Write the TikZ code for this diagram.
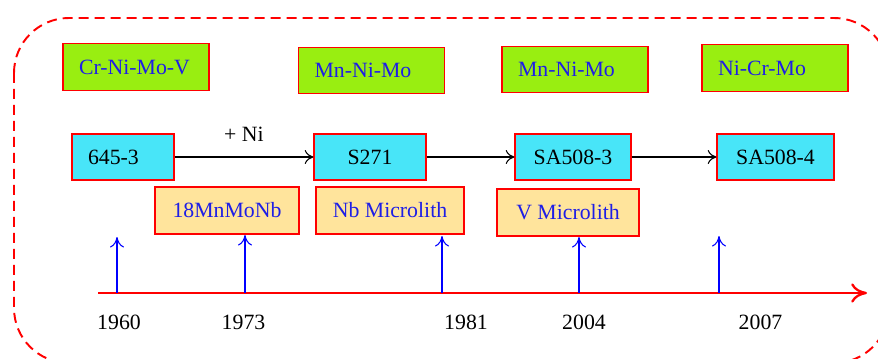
\documentclass[tikz,border=0pt]{standalone}
\usepackage{fontspec}
\setmainfont{Liberation Serif}
\usepackage{xcolor}
\usepackage{tikz}
\usetikzlibrary{arrows.meta, positioning}
\definecolor{alloygreen}{RGB}{153,238,17}
\definecolor{steelcyan}{RGB}{72,229,248}
\definecolor{microorange}{RGB}{255,228,156}
\definecolor{textblue}{RGB}{30,30,230}
\tikzset{
  alloy/.style={rectangle, draw=red, line width=0.6pt, fill=alloygreen, text=textblue,
                text width=2.28cm, align=left, inner xsep=0.32cm, minimum height=0.93cm,
                font=\rmfamily\fontsize{12.4}{14}\selectfont},
  grade/.style={rectangle, draw=red, line width=0.6pt, fill=steelcyan, text=black,
                align=center, inner sep=0pt, minimum height=0.92cm,
                font=\rmfamily\fontsize{12.4}{14}\selectfont},
  micro/.style={rectangle, draw=red, line width=0.6pt, fill=microorange, text=textblue,
                align=center, inner sep=0pt, minimum height=0.94cm,
                font=\rmfamily\fontsize{12.4}{14}\selectfont},
  year/.style={font=\rmfamily\fontsize{12.4}{14}\selectfont, inner sep=0pt},
  flow/.style={-{To[length=5pt,width=8pt]}, line width=0.6pt},
  yeartick/.style={-{To[length=6pt,width=8pt]}, blue, line width=0.6pt},
  timeaxis/.style={-{To[length=9pt,width=11pt]}, red, line width=1.3pt},
  frame/.style={red, line width=1.1pt, dash pattern=on 0.2cm off 0.12cm, rounded corners=1.1cm},
}
\begin{document}
\begin{tikzpicture}[x=0.02cm, y=-0.02cm]
  \useasboundingbox (0,0) rectangle (878,358);
  \clip (0,0) rectangle (878,358);
  \draw[frame] (14,18) rectangle (889,363);

  \node[alloy] (crnimov) at (136,67)    {Cr-Ni-Mo-V};
  \node[alloy] (mnnimoa) at (371.5,70.5) {Mn-Ni-Mo};
  \node[alloy] (mnnimob) at (575,69.5)  {Mn-Ni-Mo};
  \node[alloy] (nicrmo)  at (775,68)    {Ni-Cr-Mo};

  \node[grade, text width=1.4cm, align=left, inner xsep=0.32cm] (g645) at (123,157) {645-3};
  \node[grade, minimum width=2.24cm] (s271)  at (370,157)   {S271};
  \node[grade, minimum width=2.32cm] (sa5083) at (573,157)  {SA508-3};
  \node[grade, minimum width=2.34cm] (sa5084) at (775.5,157) {SA508-4};

  \node[micro, minimum width=2.88cm] (mnmonb) at (227,210.5) {18MnMoNb};
  \node[micro, minimum width=2.96cm] (nbmicro) at (390,210.5) {Nb Microlith};
  \node[micro, minimum width=2.84cm] (vmicro) at (568,212.5) {V Microlith};

  \draw[flow] (g645) -- node[above=5pt, font=\rmfamily\fontsize{12.4}{14}\selectfont]{+ Ni} (s271);
  \draw[flow] (s271) -- (sa5083);
  \draw[flow] (sa5083) -- (sa5084);

  \coordinate (tstart) at (98,293);
  \coordinate (tend)   at (867,293);
  \draw[timeaxis] (tstart) -- (tend);

  \coordinate (ta) at (117,293);  \coordinate (ha) at (117,237);
  \coordinate (tb) at (245,293);  \coordinate (hb) at (245,235);
  \coordinate (tc) at (442,293);  \coordinate (hc) at (442,236);
  \coordinate (td) at (579,293);  \coordinate (hd) at (579,237);
  \coordinate (te) at (719,293);  \coordinate (he) at (719,236);
  \foreach \t/\h in {ta/ha, tb/hb, tc/hc, td/hd, te/he}
    \draw[yeartick] (\t) -- (\h);

  \node[year] (y1960) at (119,322)   {1960};
  \node[year] (y1973) at (243.5,322) {1973};
  \node[year] (y1981) at (466,322)   {1981};
  \node[year] (y2004) at (584,322)   {2004};
  \node[year] (y2007) at (760.5,322) {2007};
\end{tikzpicture}
\end{document}
